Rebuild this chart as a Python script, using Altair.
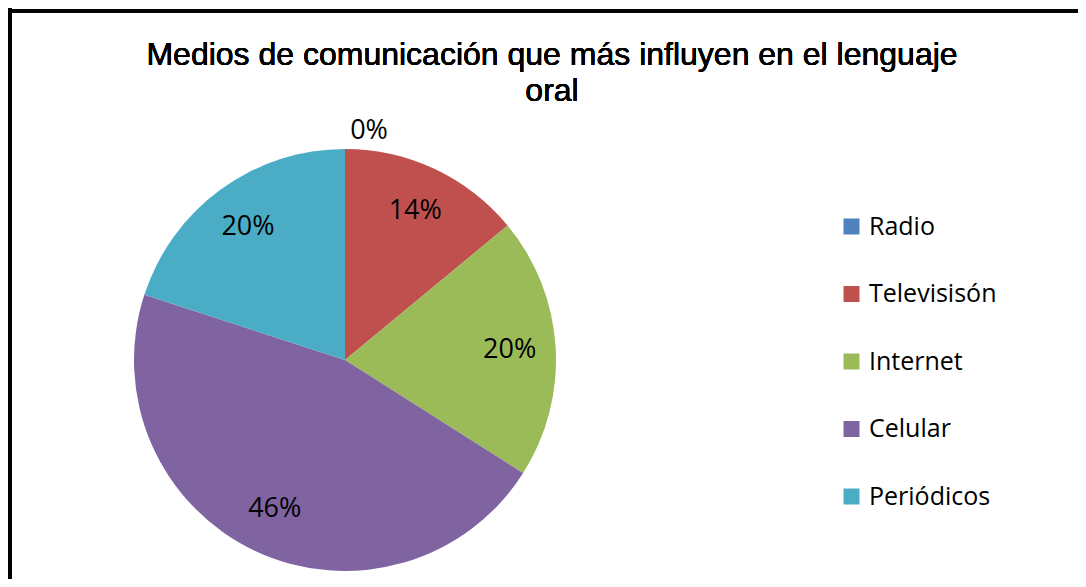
import altair as alt
import pandas as pd

categorias = ["Radio", "Televisisón", "Internet", "Celular", "Periódicos"]
valores = [0, 14, 20, 46, 20]
colores = ["#4F81BD", "#C0504D", "#9BBB59", "#8064A2", "#4BACC6"]
titulo = "Medios de comunicación que más influyen en el lenguaje\noral"

df = pd.DataFrame({
    "medio": categorias,
    "valor": valores,
    "orden": list(range(len(categorias))),
    "etiqueta": [f"{v}%" for v in valores],
})

W, H = 1070, 571
CX, CY, R = 337, 352, 211

base = alt.Chart(df).encode(
    theta=alt.Theta("valor:Q", stack=True, scale=alt.Scale(domain=[0, 100])),
    order=alt.Order("orden:Q"),
)

pie = base.mark_arc(outerRadius=R).encode(
    x=alt.value(CX),
    y=alt.value(CY),
    color=alt.Color(
        "medio:N",
        scale=alt.Scale(domain=categorias, range=colores),
        sort=categorias,
        legend=alt.Legend(
            title=None,
            orient="none",
            legendX=831,
            legendY=206,
            symbolType="square",
            symbolSize=256,
            symbolStrokeWidth=0,
            labelFont="Open Sans",
            labelFontSize=25,
            labelColor="#000000",
            labelOffset=5,
            rowPadding=41.5,
            padding=0,
        ),
    ),
)

labels = base.transform_filter("datum.valor > 0").mark_text(
    font="Open Sans", fontSize=27, color="#000000"
).encode(
    x=alt.value(CX),
    y=alt.value(CY),
    radius=alt.value(165),
    text="etiqueta:N",
)

zero = base.transform_filter("datum.valor == 0").mark_text(
    font="Open Sans", fontSize=27, color="#000000", dx=24
).encode(
    x=alt.value(CX),
    y=alt.value(CY),
    radius=alt.value(229),
    text="etiqueta:N",
)

title = alt.Chart(df).mark_text(
    text=titulo, lineBreak="\n", lineHeight=36, font="Liberation Sans",
    fontSize=32, fontWeight="normal", color="#000000", align="center",
    baseline="alphabetic"
).encode(x=alt.value(544), y=alt.value(57))

border_top = alt.Chart(df).mark_rule(color="#000000", strokeWidth=3).encode(
    y=alt.value(3)
)
border_left = alt.Chart(df).mark_rule(color="#000000", strokeWidth=4).encode(
    x=alt.value(2)
)

chart = alt.layer(border_top, border_left, pie, labels, zero, title).properties(
    width=W, height=H, autosize=alt.AutoSizeParams(type="none"), padding=0,
    background="#ffffff"
).configure_view(stroke="transparent", strokeWidth=0)

chart.save("out.html", embed_options={"renderer": "svg", "actions": False})
